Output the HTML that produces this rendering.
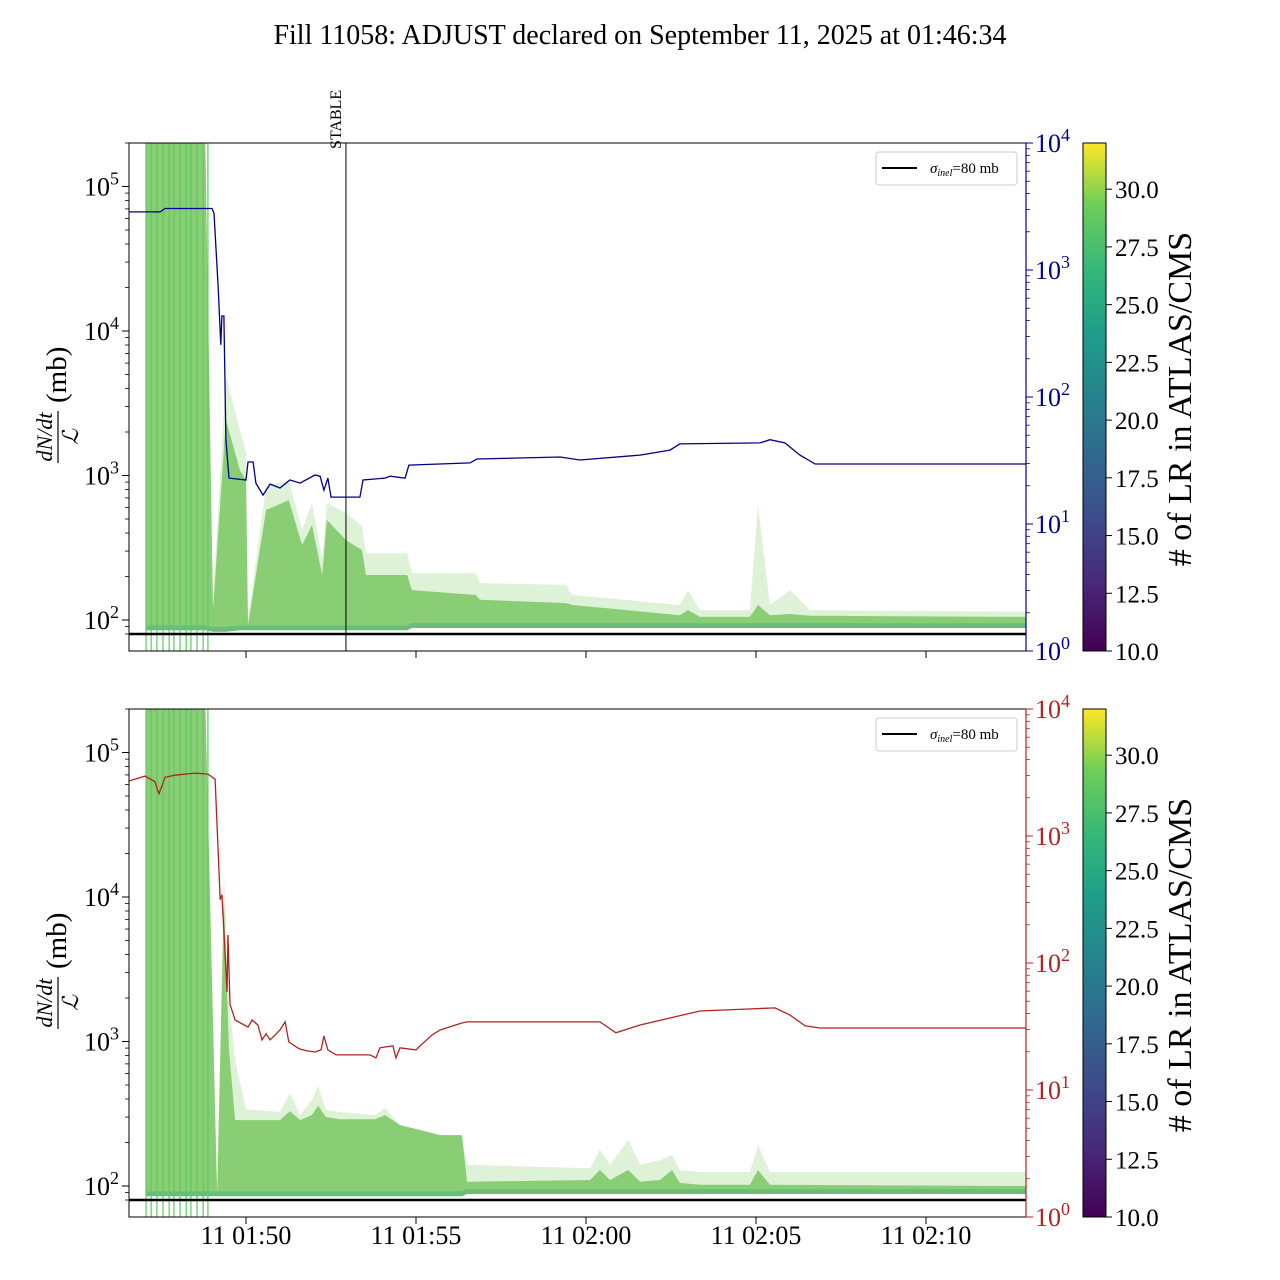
<!DOCTYPE html>
<html><head><meta charset="utf-8"><style>
body{margin:0;background:#fff}
svg{display:block;font-family:"Liberation Serif",serif}
</style></head><body>
<svg id="chart" width="1280" height="1280" viewBox="0 0 1280 1280" xmlns="http://www.w3.org/2000/svg">
<defs>
<clipPath id="c1"><rect x="129" y="143" width="897" height="508"/></clipPath>
<clipPath id="c2"><rect x="129" y="709" width="897" height="508"/></clipPath>
<linearGradient id="vir" x1="0" y1="1" x2="0" y2="0">
<stop offset="0" stop-color="#440154"/><stop offset="0.13" stop-color="#482878"/><stop offset="0.25" stop-color="#3e4989"/><stop offset="0.38" stop-color="#31688e"/><stop offset="0.5" stop-color="#26828e"/><stop offset="0.63" stop-color="#1f9e89"/><stop offset="0.75" stop-color="#35b779"/><stop offset="0.88" stop-color="#6ece58"/><stop offset="1" stop-color="#fde725"/>
</linearGradient>
</defs>
<text x="640" y="44" font-size="28" text-anchor="middle">Fill 11058: ADJUST declared on September 11, 2025 at 01:46:34</text>
<g id="g"></g>
</svg>
<script>
// ---- data (times in minutes relative to 01:50:00) ----
const lineTimes=[-2.94,-2.79,-2.62,-2.44,-2.26,-2.12,-1.94,-1.76,-1.62,-1.44,-1.26,-1.12];
const stableTime=2.94;
const sigmaInel=80;
// top panel band
const bandTopT=[-2.94,-1.21,-0.97,-0.59,-0.18,0,0.06,0.59,1.26,1.65,1.94,2.24,2.38,2.94,3.41,3.53,4.74,4.88,6.76,6.88,9.41,9.59,12.76,13.0,13.35,14.82,15.06,15.41,16.0,16.59,22.94];
const bandTopUpper=[300000,300000,138,4900,2065,1440,100,845,930,420,645,260,645,550,447,290,290,211,211,180,175,149,127,161,117,117,625,127,161,117,114];
const bandTopCore=[300000,300000,117,2420,1090,930,92,577,676,330,454,205,493,357,305,205,205,161,149,138,131,127,108,117,105,105,127,108,110,107,105];
const bandTopLower=[85,85,83,83,85,85,85,85,85,85,85,85,85,85,85,85,85,88,88,88,88,88,88,88,88,88,88,88,88,88,88];
// bottom panel band
const bandBotT=[-2.94,-1.21,-0.85,-0.65,-0.5,-0.32,0,1.0,1.29,1.59,1.94,2.12,2.35,2.76,3.79,4.09,4.53,5.12,5.71,6.35,6.5,10.12,10.41,10.71,11.24,11.59,12.18,12.53,12.76,13.35,14.82,15.06,15.41,22.94];
const bandBotUpper=[300000,300000,91,14800,1940,745,340,325,440,310,394,493,336,325,310,346,264,244,225,225,140,133,178,140,208,140,151,164,129,125,125,192,125,125];
const bandBotCore=[300000,300000,87,9530,873,286,286,286,330,286,310,360,300,290,290,310,264,244,225,225,107,110,129,110,129,107,110,129,105,102,102,129,102,100];
const bandBotLower=[85,85,85,85,85,85,85,85,85,85,85,85,85,85,85,85,85,85,85,85,88,88,88,88,88,88,88,88,88,88,88,88,88,88];
// luminosity series (right axes)
const blueT=[-3.44,-2.53,-2.38,-1.0,-0.94,-0.82,-0.74,-0.71,-0.65,-0.59,-0.5,0,0.06,0.21,0.29,0.5,0.71,1.0,1.29,1.59,2.03,2.18,2.29,2.41,2.5,3.35,3.44,4.09,4.24,4.68,4.79,6.59,6.79,9.24,9.82,11.59,12.47,12.76,15.12,15.41,15.85,16.29,16.74,22.94];
const blueV=[2865,2865,3050,3050,2800,748,257,434,434,46,23,22.2,30.8,30.8,21,16.9,20.6,19.2,22.2,21,24.3,23.8,18.5,23,16.3,16.3,22.2,23,23.8,23,29.1,30.3,32.5,33.7,31.9,34.9,38.2,42.7,43.5,46.1,43.5,34.9,29.7,29.7];
const redT=[-3.44,-2.97,-2.68,-2.56,-2.38,-2.09,-1.5,-1.12,-0.91,-0.76,-0.71,-0.62,-0.56,-0.53,-0.47,-0.32,0.06,0.18,0.35,0.47,0.59,0.71,1.0,1.15,1.26,1.56,1.79,2.03,2.21,2.29,2.41,2.65,3.65,3.82,3.94,4.32,4.41,4.53,5.0,5.12,5.47,5.71,6.35,6.5,10.41,10.88,11.59,12.47,13.35,15.56,16.0,16.44,16.88,22.94];
const redV=[2710,2960,2680,2150,2900,3010,3130,3070,2800,315,345,126,59,166,47.4,35.6,31.3,35.6,32.5,24.8,27.7,24.8,29.7,34.4,23.9,21.1,20.3,19.9,20.7,26.6,20.7,18.9,18.9,17.9,21.5,22.3,17.9,21.5,20.7,22.3,27.1,29.7,33.7,34.4,34.4,28.2,32.5,36.9,41.9,44.3,38.9,32,30.8,30.8];
const leftTicks=[2,3,4,5], rightTicks=[0,1,2,3,4];
const xTicks=[0,5,10,15,20], xTickLabels=["11 01:50","11 01:55","11 02:00","11 02:05","11 02:10"];
const cbTicks=[10,12.5,15,17.5,20,22.5,25,27.5,30];
const cbMin=10, cbMax=32;

// ---- axis functions ----
const NS="http://www.w3.org/2000/svg";
const g=document.getElementById('g');
function xT(t){return 246+34*t;}
function yL(v,o){return o+620-(Math.log10(v)-2)*144.5;}
function yR(v,o){return o+651-Math.log10(v)*127;}
function mk(tag,attrs,parent){const e=document.createElementNS(NS,tag);for(const k in attrs)e.setAttribute(k,attrs[k]);(parent||g).appendChild(e);return e;}

function band(T,U,L,o,clip,fill,op,name){
  let pts=[];
  for(let i=0;i<T.length;i++)pts.push(xT(T[i]).toFixed(1)+','+yL(U[i],o).toFixed(1));
  for(let i=T.length-1;i>=0;i--)pts.push(xT(T[i]).toFixed(1)+','+yL(L[i],o).toFixed(1));
  const p=mk('polygon',{points:pts.join(' '),fill:fill,'fill-opacity':op,'clip-path':clip});
  
  
}
function series(T,V,o,clip,color,name){
  const d=T.map((t,i)=>(i?'L':'M')+xT(t).toFixed(1)+','+yR(V[i],o).toFixed(1)).join('');
  const p=mk('path',{d:d,fill:'none',stroke:color,'stroke-width':1.3,'clip-path':clip});
  
  
}

function panel(o,clip,bT,bU,bC,bL,sT,sV,scol,label){
  band(bT,bU,bL,o,clip,'#8fd47a',0.3,'lr-band-envelope');
  band(bT,bC,bL,o,clip,'#76c45e',0.82,'lr-band-core');
  const tl=bL.map(v=>v*1.08);
  band(bT,tl,bL,o,clip,'#2e9e86',0.35,'lr-band-low');
  lineTimes.forEach(t=>{
    const l=mk('line',{x1:xT(t),x2:xT(t),y1:o+143,y2:o+651,stroke:'#5ec962','stroke-width':1.2});
    
    
  });
  const s=mk('line',{x1:129,x2:1026,y1:yL(sigmaInel,o),y2:yL(sigmaInel,o),stroke:'#000','stroke-width':2.5});
  
  
  series(sT,sV,o,clip,scol,label);
  const f=mk('rect',{x:129,y:o+143,width:897,height:508,fill:'none',stroke:'#000','stroke-width':1});
  
  
  leftTicks.forEach(e=>{
    const y=yL(Math.pow(10,e),o);
    mk('line',{x1:122,x2:129,y1:y,y2:y,stroke:'#000'});
    const tx=mk('text',{x:84,y:y+9,'font-size':26});
    
    
    tx.innerHTML='10<tspan dy="-11" font-size="18">'+e+'</tspan>';
    for(let m=2;m<10;m++){const ym=yL(m*Math.pow(10,e),o);if(ym>o+143&&ym<o+651)mk('line',{x1:125,x2:129,y1:ym,y2:ym,stroke:'#000','stroke-width':0.8});}
  });
  {const ym=yL(80,o);mk('line',{x1:125,x2:129,y1:ym,y2:ym,stroke:'#000','stroke-width':0.8});const y9=yL(90,o);mk('line',{x1:125,x2:129,y1:y9,y2:y9,stroke:'#000','stroke-width':0.8});}
  rightTicks.forEach(e=>{
    const y=yR(Math.pow(10,e),o);
    mk('line',{x1:1026,x2:1033,y1:y,y2:y,stroke:scol});
    const tx=mk('text',{x:1035,y:y+9,'font-size':26,fill:scol});
    
    
    tx.innerHTML='10<tspan dy="-11" font-size="18">'+e+'</tspan>';
    if(e<4)for(let m=2;m<10;m++){const ym=yR(m*Math.pow(10,e),o);mk('line',{x1:1026,x2:1030,y1:ym,y2:ym,stroke:scol,'stroke-width':0.8});}
  });
  mk('line',{x1:1026,x2:1026,y1:o+143,y2:o+651,stroke:scol,'stroke-width':1.2});
  xTicks.forEach((t,i)=>{
    mk('line',{x1:xT(t),x2:xT(t),y1:o+651,y2:o+658,stroke:'#000'});
    if(o>0){const tx=mk('text',{x:xT(t),y:1244,'font-size':26,'text-anchor':'middle'});
      
      
      tx.textContent=xTickLabels[i];}
  });
  const yl=mk('g',{transform:'translate(58,'+(o+397)+') rotate(-90)'});
  
  
  mk('text',{x:-40,y:-6,'font-size':22,'font-style':'italic','text-anchor':'middle'},yl).textContent='dN/dt';
  mk('line',{x1:-66,x2:-14,y1:0,y2:0,stroke:'#000','stroke-width':1.2},yl);
  mk('text',{x:-40,y:20,'font-size':22,'font-style':'italic','text-anchor':'middle'},yl).textContent='ℒ';
  mk('text',{x:-6,y:8,'font-size':29},yl).textContent='(mb)';
  const lg=mk('g',{});
  
  
  mk('rect',{x:876,y:o+152,width:141,height:33,rx:3,fill:'#fff',stroke:'#ccc'},lg);
  mk('line',{x1:882,x2:917,y1:o+168,y2:o+168,stroke:'#000','stroke-width':2},lg);
  const lt=mk('text',{x:930,y:o+173,'font-size':15},lg);
  lt.innerHTML='<tspan font-style="italic">σ</tspan><tspan font-size="10" dy="3" font-style="italic">inel</tspan><tspan dy="-3">=80 mb</tspan>';
  const cb=mk('rect',{x:1083,y:o+143,width:23,height:508,fill:'url(#vir)',stroke:'#000','stroke-width':1});
  
  
  cbTicks.forEach(v=>{
    const y=o+651-(v-cbMin)/(cbMax-cbMin)*508;
    mk('line',{x1:1106,x2:1112,y1:y,y2:y,stroke:'#000'});
    const tx=mk('text',{x:1115,y:y+9,'font-size':25});
    
    
    tx.textContent=v.toFixed(1);
  });
  const ct=mk('text',{x:0,y:0,'font-size':34,'text-anchor':'middle',transform:'translate(1191,'+(o+399)+') rotate(-90)'});
  
  
  ct.textContent='# of LR in ATLAS/CMS';
}
panel(0,'url(#c1)',bandTopT,bandTopUpper,bandTopCore,bandTopLower,blueT,blueV,'#00008b','luminosity-line-blue');
panel(566,'url(#c2)',bandBotT,bandBotUpper,bandBotCore,bandBotLower,redT,redV,'#b22222','luminosity-line-red');
const st=mk('line',{x1:xT(stableTime),x2:xT(stableTime),y1:143,y2:651,stroke:'#000','stroke-width':1});


const stt=mk('text',{x:0,y:0,'font-size':16,transform:'translate('+(xT(stableTime)-5)+',149) rotate(-90)'});


stt.textContent='STABLE';
</script>
</body></html>
